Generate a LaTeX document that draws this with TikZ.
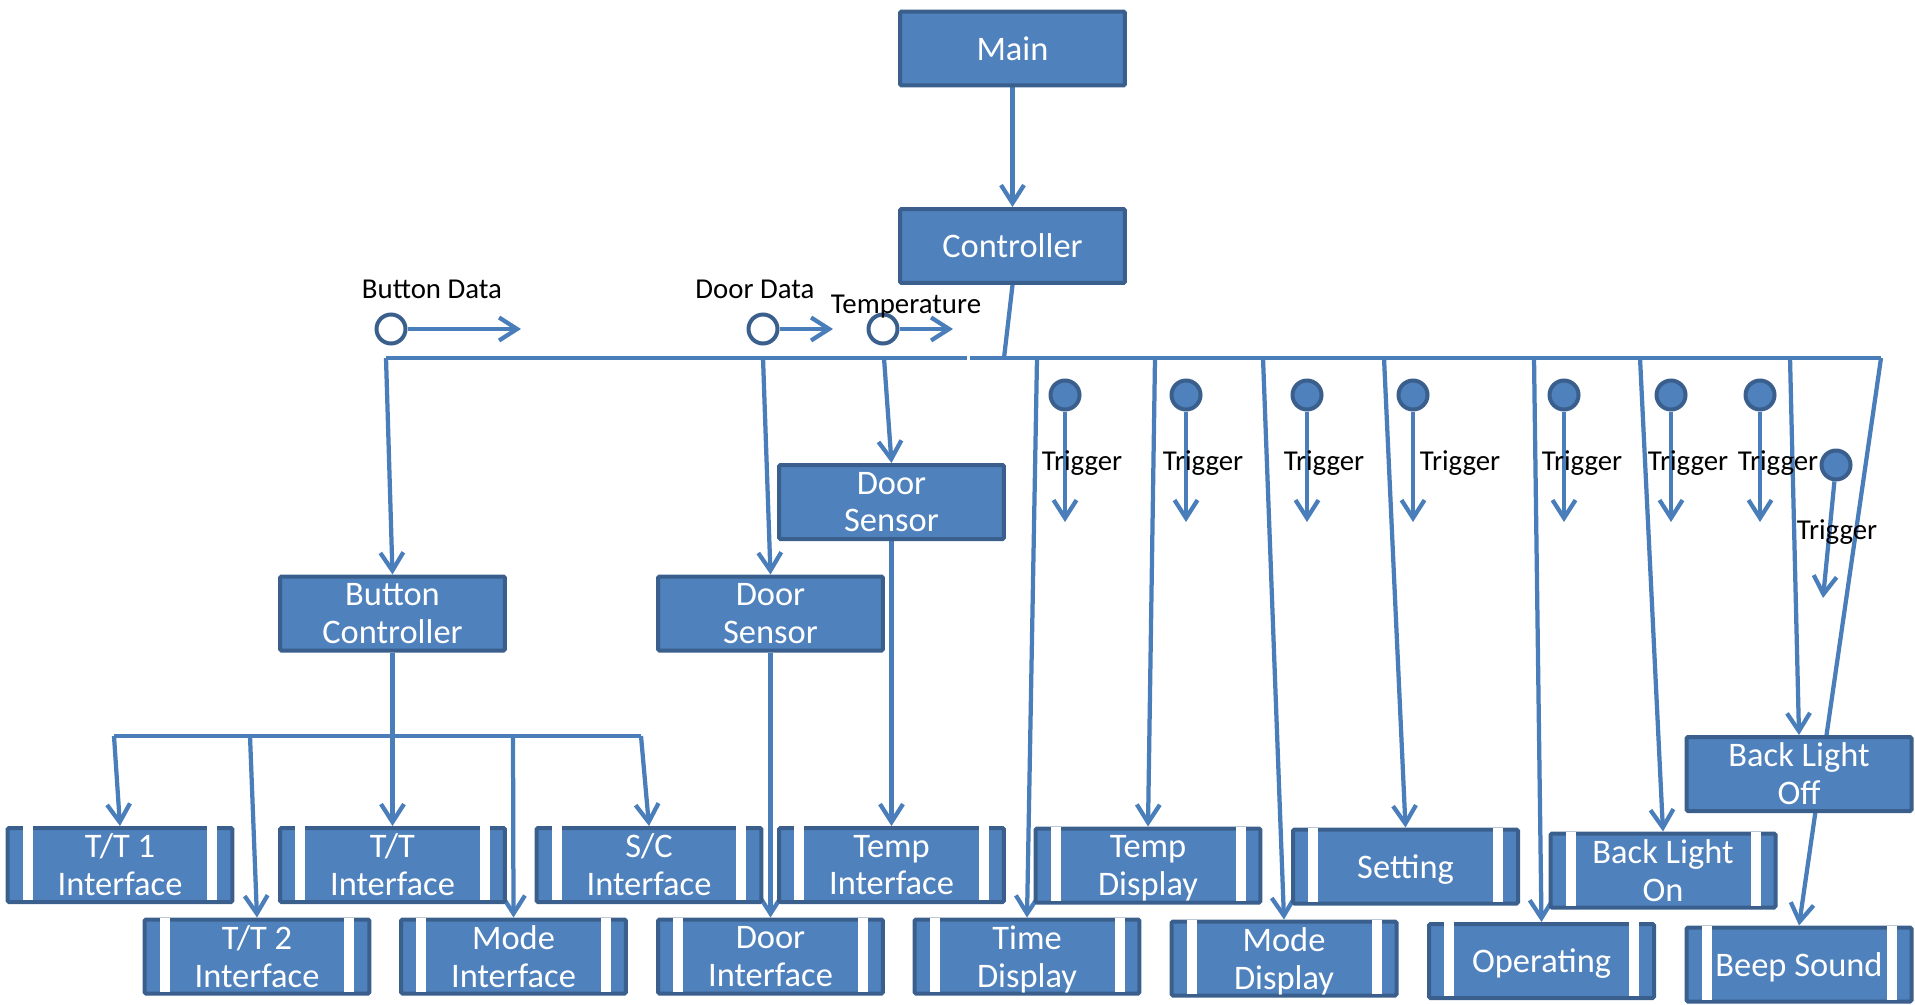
\documentclass[tikz,border=0pt]{standalone}
\usepackage{fontspec}
\setmainfont{Carlito}
\usetikzlibrary{arrows.meta,backgrounds}
\definecolor{boxfill}{HTML}{4F81BD}
\definecolor{boxdraw}{HTML}{3A5F8C}
\definecolor{wire}{HTML}{4A7EBB}
\newcommand\pbars[1]{%
  \fill[white] ([xshift=0.34cm]#1.north west) rectangle ([xshift=0.54cm,yshift=0.08cm]#1.south west);
  \fill[white] ([xshift=-0.34cm]#1.north east) rectangle ([xshift=-0.54cm,yshift=0.08cm]#1.south east);}
\newcommand\nodp[1]{\raisebox{0pt}[\height][0pt]{#1}}
\begin{document}
\begin{tikzpicture}[x=0.02cm,y=-0.02cm,
  box/.style={draw=boxdraw, fill=boxfill, line width=0.08cm, rounded corners=0.03cm,
    minimum width=4.5cm, minimum height=1.48cm, inner sep=0pt, text=white, align=center,
    font=\fontsize{19.6}{21.5}\selectfont},
  wire/.style={draw=wire, line width=0.085cm},
  arr/.style={wire, -{Straight Barb[length=0.36cm,width=0.46cm]}},
  ocirc/.style={circle, draw=boxdraw, fill=white, line width=0.08cm, minimum size=0.58cm, inner sep=0pt},
  fcirc/.style={circle, draw=boxdraw, fill=boxfill, line width=0.08cm, minimum size=0.58cm, inner sep=0pt},
  lbl/.style={font=\fontsize{16.4}{18}\selectfont, text=black, inner sep=0pt, anchor=base}]
\useasboundingbox (0,0) rectangle (1915,1004);
% plain boxes
\node[box] (main) at (1012.5,48.5) {Main};
\node[box] (ctrl) at (1012.5,246) {Controller};
\node[box] (ds2) at (891.5,502) {Door\\Sensor};
\node[box] (bc) at (392.5,613.5) {Button\\Controller};
\node[box] (ds1) at (770.5,613.5) {Door\\Sensor};
\node[box] (blo) at (1799,774) {Back Light\\Off};
% row A
\node[box] (tt1) at (120,865) {T/T 1\\Interface};
\node[box] (tt) at (392.5,865) {T/T\\Interface};
\node[box] (sc) at (649,865) {S/C\\Interface};
\node[box] (ti) at (891.5,865) {Temp\\Interface};
\node[box] (td) at (1148,865.5) {Temp\\\nodp{Display}};
\node[box] (set) at (1405.5,866.5) {\nodp{Setting}};
\node[box] (blon) at (1663,870.5) {Back Light\\On};
% row B
\node[box] (tt2) at (257,956.5) {T/T 2\\Interface};
\node[box] (mi) at (513.5,956.5) {Mode\\Interface};
\node[box] (di) at (770.5,956.5) {Door\\Interface};
\node[box] (tmd) at (1027,956.5) {Time\\\nodp{Display}};
\node[box] (md) at (1284,958.5) {Mode\\\nodp{Display}};
\node[box] (op) at (1541.5,961) {\nodp{Operating}};
\node[box] (bs) at (1799,964.5) {\nodp{Beep Sound}};
\pbars{tt1}\pbars{tt}\pbars{sc}\pbars{ti}\pbars{td}\pbars{set}\pbars{blon}
\pbars{tt2}\pbars{mi}\pbars{di}\pbars{tmd}\pbars{md}\pbars{op}\pbars{bs}
% bus coordinates
\coordinate (cb) at (1004,358);
\coordinate (busL) at (386,358);
\coordinate (busM1) at (967,358);
\coordinate (busM2) at (970,358);
\coordinate (busR) at (1881,358);
\coordinate (d2) at (763,358);
\coordinate (d3) at (884,358);
\coordinate (d4) at (1037,358);
\coordinate (d5) at (1155,358);
\coordinate (d6) at (1263,358);
\coordinate (d7) at (1384,358);
\coordinate (d8) at (1534,358);
\coordinate (d9) at (1640,358);
\coordinate (d10) at (1790,358);
\coordinate (hL) at (114,736);
\coordinate (h2) at (250,736);
\coordinate (h3) at (392.5,736);
\coordinate (h4) at (513,736);
\coordinate (hR) at (641,736);
\begin{scope}[on background layer]
\draw[arr] (main) -- (ctrl);
\draw[wire] (ctrl.south) -- (cb);
\draw[wire] (busL) -- (busM1);
\draw[wire] (busM2) -- (busR);
\draw[arr] (busL) -- (bc.north);
\draw[arr] (d2) -- (ds1.north);
\draw[arr] (d3) -- (ds2.north);
\draw[arr] (d4) -- (tmd.north);
\draw[arr] (d5) -- (td.north);
\draw[arr] (d6) -- (md.north);
\draw[arr] (d7) -- (set.north);
\draw[arr] (d8) -- (op.north);
\draw[arr] (d9) -- (blon.north);
\draw[arr] (d10) -- (blo.north);
\draw[arr] (busR) -- (bs.north);
\draw[wire] (hL) -- (hR);
\draw[wire] (bc) -- (h3);
\draw[arr] (hL) -- (tt1.north);
\draw[arr] (h2) -- (tt2.north);
\draw[arr] (h3) -- (tt.north);
\draw[arr] (h4) -- (mi.north);
\draw[arr] (hR) -- (sc.north);
\draw[arr] (ds1) -- (di);
\draw[arr] (ds2) -- (ti);
\end{scope}
% data flows
\node[ocirc] (bd) at (391,329) {};
\coordinate (bde) at (521,329);
\draw[arr] (bd) -- (bde);
\node[lbl] (bdl) at (432,298) {Button Data};
\node[ocirc] (dd) at (763,329) {};
\coordinate (dde) at (833,329);
\draw[arr] (dd) -- (dde);
\node[lbl] (ddl) at (755,298) {Door Data};
\node[ocirc] (tp) at (883,329) {};
\coordinate (tpe) at (953,329);
\draw[arr] (tp) -- (tpe);
\node[lbl] (tpl) at (906,313) {Temperature};
% triggers
\foreach \i/\x/\lx in {1/1065/1082, 2/1186/1203, 3/1307/1324, 4/1413/1460, 5/1564/1582, 6/1671/1688, 7/1760/1778} {
  \node[fcirc] (tr\i) at (\x,395) {};
  \coordinate (tr\i e) at (\x,522);
  \draw[arr] (tr\i) -- (tr\i e);
  \node[lbl] (trl\i) at (\lx,470) {Trigger};
}
\node[fcirc] (tr8) at (1836,465) {};
\coordinate (tr8e) at (1823,598);
\draw[arr] (tr8) -- (tr8e);
\node[lbl] (trl8) at (1837,539) {Trigger};
\end{tikzpicture}
\end{document}
